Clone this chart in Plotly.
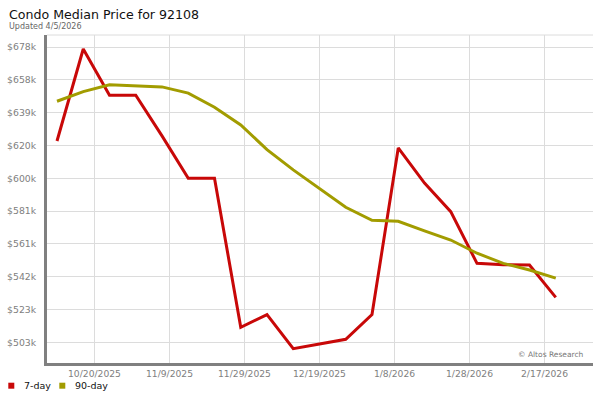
import plotly.graph_objects as go

# ---- data ----
dates = [
    "2025-10-10", "2025-10-17", "2025-10-24", "2025-10-31", "2025-11-07",
    "2025-11-14", "2025-11-21", "2025-11-28", "2025-12-05", "2025-12-12",
    "2025-12-19", "2025-12-26", "2026-01-02", "2026-01-09", "2026-01-16",
    "2026-01-23", "2026-01-30", "2026-02-06", "2026-02-13", "2026-02-20",
]
seven_day = [622.7, 677.1, 649.8, 649.8, 625.7, 600.7, 600.7, 512.5, 520.0, 499.8,
             502.6, 505.4, 520.0, 618.6, 597.8, 580.9, 550.3, 549.5, 549.3, 530.2]
ninety_day = [646.2, 651.9, 655.9, 655.3, 654.7, 651.0, 642.7, 632.2, 617.6, 605.6,
              594.7, 583.5, 575.8, 575.2, 569.5, 564.1, 556.3, 550.3, 546.4, 541.6]

x_tick_dates = ["2025-10-20", "2025-11-09", "2025-11-29", "2025-12-19",
                "2026-01-08", "2026-01-28", "2026-02-17"]
x_tick_labels = ["10/20/2025", "11/9/2025", "11/29/2025", "12/19/2025",
                 "1/8/2026", "1/28/2026", "2/17/2026"]
y_tick_values = [503.6, 523.0, 542.4, 561.8, 581.2, 600.6, 620.0, 639.4, 658.8, 678.2]
y_tick_labels = ["$503k", "$523k", "$542k", "$561k", "$581k", "$600k",
                 "$620k", "$639k", "$658k", "$678k"]

series_names = ["7-day", "90-day"]
series_colors = ["#c80808", "#a29c00"]

FONT = "DejaVu Sans"

fig = go.Figure()
for name, vals, col in zip(series_names, [seven_day, ninety_day], series_colors):
    fig.add_trace(go.Scatter(x=dates, y=vals, mode="lines", name=name,
                             line=dict(color=col, width=3), showlegend=False,
                             hoverinfo="skip"))

W, H = 600, 400
L, R, T, B = 47, 7, 35, 37
pw, ph = W - L - R, H - T - B

def px_x(p):
    return (p - L) / pw

def px_y(p):
    return (H - B - p) / ph

annotations = [
    dict(text="Condo Median Price for 92108", x=px_x(6.5), y=px_y(14.5), xref="paper", yref="paper",
         xanchor="left", yanchor="middle", showarrow=False,
         font=dict(family=FONT, size=12.6, color="#111111")),
    dict(text="Updated 4/5/2026", x=px_x(6.5), y=px_y(26), xref="paper", yref="paper",
         xanchor="left", yanchor="middle", showarrow=False,
         font=dict(family=FONT, size=8, color="#666666")),
    dict(text="© Altos Research", x=px_x(586), y=px_y(354), xref="paper", yref="paper",
         xanchor="right", yanchor="middle", showarrow=False,
         font=dict(family=FONT, size=7.5, color="#777777")),
]
shapes = [
    dict(type="line", xref="paper", yref="paper", x0=0, x1=1, y0=1, y1=1,
         line=dict(color="#dcdcdc", width=1)),
]
# legend (squares + labels)
leg_sq = [(8.3, 14.3), (59.3, 65.3)]
leg_tx = [22, 72.7]
for (a, b), tx, name, col in zip(leg_sq, leg_tx, series_names, series_colors):
    shapes.append(dict(type="rect", xref="paper", yref="paper",
                       x0=px_x(a), x1=px_x(b), y0=px_y(388.7), y1=px_y(382.7),
                       fillcolor=col, line=dict(width=0)))
    annotations.append(dict(text=name, x=px_x(tx), y=px_y(385.5), xref="paper", yref="paper",
                            xanchor="left", yanchor="middle", showarrow=False,
                            font=dict(family=FONT, size=9.5, color="#111111")))

fig.update_layout(
    width=W, height=H,
    margin=dict(l=L, r=R, t=T, b=B, pad=0),
    paper_bgcolor="white", plot_bgcolor="white",
    font=dict(family=FONT),
    showlegend=False,
    annotations=annotations,
    shapes=shapes,
    xaxis=dict(
        type="date",
        range=["2025-10-07 08:00", "2026-03-01 22:24"],
        tickmode="array", tickvals=x_tick_dates, ticktext=x_tick_labels,
        showgrid=True, gridcolor="#dcdcdc", gridwidth=1,
        showline=True, linecolor="#808080", linewidth=3,
        ticks="", zeroline=False,
        tickfont=dict(family=FONT, size=9.2, color="#808080"),
    ),
    yaxis=dict(
        range=[491.35, 685.4],
        tickmode="array", tickvals=y_tick_values, ticktext=y_tick_labels,
        showgrid=True, gridcolor="#dcdcdc", gridwidth=1,
        showline=True, linecolor="#808080", linewidth=3,
        ticks="", zeroline=False, ticklabelstandoff=6,
        tickfont=dict(family=FONT, size=9.3, color="#808080"),
    ),
)

fig.write_html("out.html", config={"displayModeBar": False},
               post_script="document.body.style.margin='0px';document.body.style.overflow='hidden';")
